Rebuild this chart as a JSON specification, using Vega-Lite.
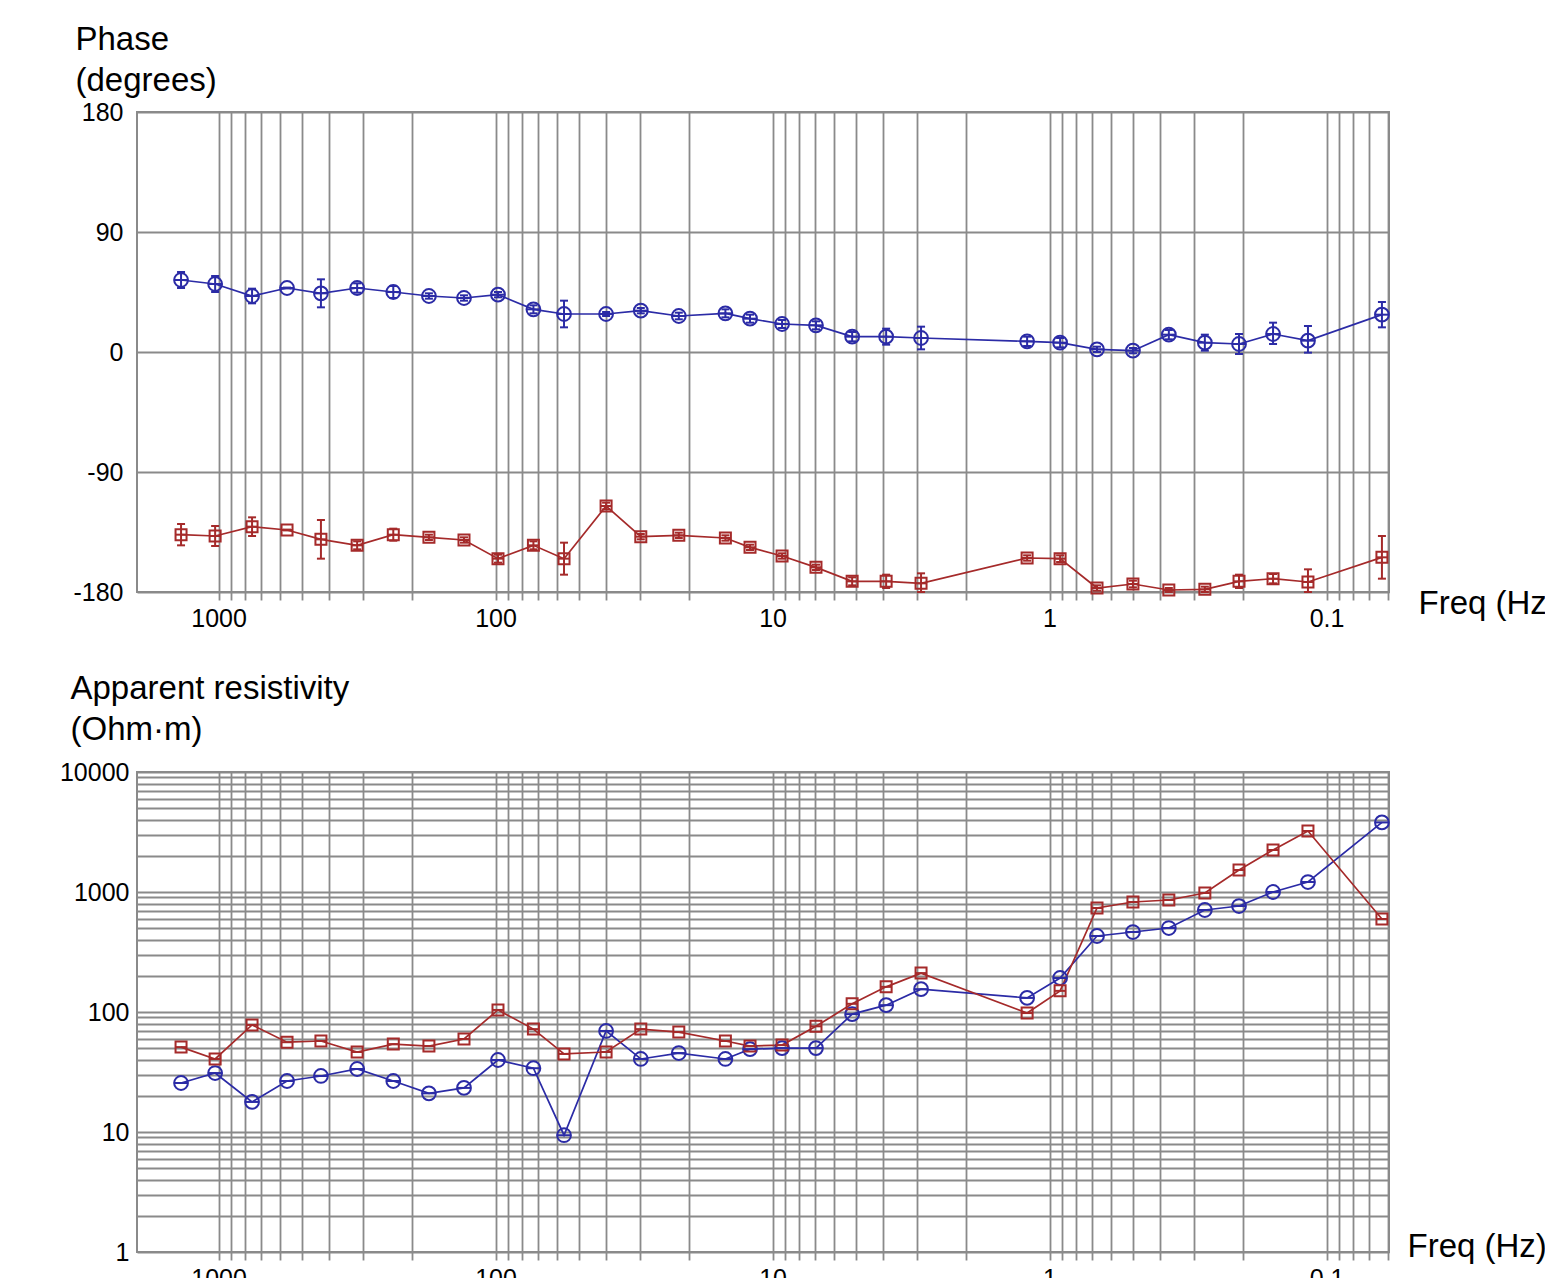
{
  "$schema": "https://vega.github.io/schema/vega-lite/v6.json",
  "padding": {"left": 58, "top": 22, "right": 0, "bottom": 0},
  "config": {
    "font": "Liberation Sans",
    "view": {"stroke": "#8a8a8a", "strokeWidth": 2},
    "axis": {
      "gridColor": "#8a8a8a", "gridWidth": 1.8, "gridOpacity": 1,
      "domain": false, "tickColor": "#8a8a8a", "tickWidth": 1.8,
      "labelFont": "Liberation Sans", "labelColor": "#000",
      "titleFont": "Liberation Sans", "titleColor": "#000", "titleFontWeight": "normal"
    }
  },
  "datasets": {
    "mt": [
      {"freq": 1366, "series": "A", "ph": 54, "lo": 48, "hi": 60, "rho": 25.6},
      {"freq": 1029, "series": "A", "ph": 51, "lo": 45, "hi": 57, "rho": 31},
      {"freq": 757, "series": "A", "ph": 42, "lo": 36.5, "hi": 47.5, "rho": 17.8},
      {"freq": 566, "series": "A", "ph": 48, "lo": 47.7, "hi": 48.3, "rho": 26.6},
      {"freq": 427, "series": "A", "ph": 44, "lo": 33.5, "hi": 54.5, "rho": 29.3},
      {"freq": 316, "series": "A", "ph": 48, "lo": 44.5, "hi": 51.5, "rho": 33.5},
      {"freq": 234, "series": "A", "ph": 45, "lo": 40.5, "hi": 49.5, "rho": 26.6},
      {"freq": 174, "series": "A", "ph": 42, "lo": 40, "hi": 44, "rho": 21},
      {"freq": 130, "series": "A", "ph": 40.5, "lo": 38.5, "hi": 42.5, "rho": 23.3},
      {"freq": 98, "series": "A", "ph": 43, "lo": 41, "hi": 45, "rho": 39.8},
      {"freq": 73, "series": "A", "ph": 32, "lo": 29, "hi": 35, "rho": 34},
      {"freq": 56.6, "series": "A", "ph": 28.5, "lo": 18.5, "hi": 38.5, "rho": 9.4},
      {"freq": 39.9, "series": "A", "ph": 28.5, "lo": 27, "hi": 30, "rho": 69.5},
      {"freq": 29.9, "series": "A", "ph": 31, "lo": 29, "hi": 33, "rho": 40.6},
      {"freq": 21.8, "series": "A", "ph": 27, "lo": 24.5, "hi": 29.5, "rho": 45.5},
      {"freq": 14.8, "series": "A", "ph": 29, "lo": 26, "hi": 32, "rho": 40.6},
      {"freq": 12.06, "series": "A", "ph": 25, "lo": 22, "hi": 28, "rho": 49},
      {"freq": 9.24, "series": "A", "ph": 21, "lo": 18, "hi": 24, "rho": 50},
      {"freq": 6.97, "series": "A", "ph": 20, "lo": 17, "hi": 23, "rho": 50},
      {"freq": 5.16, "series": "A", "ph": 11.5, "lo": 8, "hi": 15, "rho": 96},
      {"freq": 3.89, "series": "A", "ph": 11.5, "lo": 5.5, "hi": 17.5, "rho": 114},
      {"freq": 2.91, "series": "A", "ph": 10.5, "lo": 2, "hi": 19, "rho": 155},
      {"freq": 1.205, "series": "A", "ph": 8, "lo": 4.5, "hi": 11.5, "rho": 131},
      {"freq": 0.916, "series": "A", "ph": 7, "lo": 3.5, "hi": 10.5, "rho": 192},
      {"freq": 0.674, "series": "A", "ph": 2, "lo": 0, "hi": 4, "rho": 430},
      {"freq": 0.5, "series": "A", "ph": 1, "lo": -1, "hi": 3, "rho": 464},
      {"freq": 0.371, "series": "A", "ph": 13, "lo": 9.5, "hi": 16.5, "rho": 501},
      {"freq": 0.275, "series": "A", "ph": 7, "lo": 1, "hi": 13, "rho": 708},
      {"freq": 0.207, "series": "A", "ph": 6, "lo": -1.5, "hi": 13.5, "rho": 764},
      {"freq": 0.156, "series": "A", "ph": 13.5, "lo": 6, "hi": 22, "rho": 1000},
      {"freq": 0.1167, "series": "A", "ph": 8.5, "lo": -0.5, "hi": 19.5, "rho": 1211},
      {"freq": 0.0631, "series": "A", "ph": 28, "lo": 18.5, "hi": 37.5, "rho": 3800},
      {"freq": 1366, "series": "B", "ph": -137, "lo": -145, "hi": -129, "rho": 51},
      {"freq": 1029, "series": "B", "ph": -138, "lo": -145.5, "hi": -130.5, "rho": 40.6},
      {"freq": 757, "series": "B", "ph": -131, "lo": -138, "hi": -124, "rho": 78},
      {"freq": 566, "series": "B", "ph": -133.5, "lo": -133.8, "hi": -133.2, "rho": 56},
      {"freq": 427, "series": "B", "ph": -140.5, "lo": -155, "hi": -126, "rho": 57.3},
      {"freq": 316, "series": "B", "ph": -145, "lo": -148, "hi": -142, "rho": 46.4},
      {"freq": 234, "series": "B", "ph": -137, "lo": -141.5, "hi": -132.5, "rho": 54},
      {"freq": 174, "series": "B", "ph": -139, "lo": -141, "hi": -137, "rho": 52},
      {"freq": 130, "series": "B", "ph": -141, "lo": -143, "hi": -139, "rho": 59.6},
      {"freq": 98, "series": "B", "ph": -155, "lo": -158, "hi": -152, "rho": 104},
      {"freq": 73, "series": "B", "ph": -145, "lo": -148, "hi": -142, "rho": 72},
      {"freq": 56.6, "series": "B", "ph": -155, "lo": -167, "hi": -143, "rho": 44.7},
      {"freq": 39.9, "series": "B", "ph": -115.5, "lo": -118, "hi": -113, "rho": 46.4},
      {"freq": 29.9, "series": "B", "ph": -138.5, "lo": -140.5, "hi": -136.5, "rho": 72},
      {"freq": 21.8, "series": "B", "ph": -137.5, "lo": -139.5, "hi": -135.5, "rho": 68},
      {"freq": 14.8, "series": "B", "ph": -139.5, "lo": -141.5, "hi": -137.5, "rho": 57.3},
      {"freq": 12.06, "series": "B", "ph": -146.5, "lo": -148.5, "hi": -144.5, "rho": 52},
      {"freq": 9.24, "series": "B", "ph": -153, "lo": -155, "hi": -151, "rho": 53},
      {"freq": 6.97, "series": "B", "ph": -161.5, "lo": -163.5, "hi": -159.5, "rho": 76},
      {"freq": 5.16, "series": "B", "ph": -172, "lo": -175, "hi": -169, "rho": 117},
      {"freq": 3.89, "series": "B", "ph": -172, "lo": -177, "hi": -167, "rho": 162},
      {"freq": 2.91, "series": "B", "ph": -173.5, "lo": -180, "hi": -166, "rho": 211},
      {"freq": 1.205, "series": "B", "ph": -154.5, "lo": -156.5, "hi": -152.5, "rho": 98},
      {"freq": 0.916, "series": "B", "ph": -155, "lo": -157.5, "hi": -152.5, "rho": 150},
      {"freq": 0.674, "series": "B", "ph": -177, "lo": -179, "hi": -175, "rho": 736},
      {"freq": 0.5, "series": "B", "ph": -174, "lo": -176.5, "hi": -171.5, "rho": 825},
      {"freq": 0.371, "series": "B", "ph": -178.5, "lo": -180, "hi": -177, "rho": 858},
      {"freq": 0.275, "series": "B", "ph": -178, "lo": -180, "hi": -176, "rho": 981},
      {"freq": 0.207, "series": "B", "ph": -172, "lo": -177, "hi": -167, "rho": 1525},
      {"freq": 0.156, "series": "B", "ph": -170, "lo": -173.5, "hi": -166.5, "rho": 2239},
      {"freq": 0.1167, "series": "B", "ph": -172.5, "lo": -180, "hi": -163, "rho": 3225},
      {"freq": 0.0631, "series": "B", "ph": -154, "lo": -170, "hi": -138, "rho": 596}
    ]
  },
  "spacing": 180,
  "bounds": "flush",
  "vconcat": [
    {
      "width": 1252,
      "height": 480,
      "data": {"name": "mt"},
      "encoding": {
        "x": {
          "field": "freq", "type": "quantitative",
          "scale": {"type": "log", "domain": [0.0595, 1970], "reverse": true, "nice": false},
          "axis": {
            "values": [0.06, 0.07, 0.08, 0.09, 0.1, 0.2, 0.3, 0.4, 0.5, 0.6, 0.7, 0.8, 0.9, 1, 2, 3, 4, 5, 6, 7, 8, 9, 10, 20, 30, 40, 50, 60, 70, 80, 90, 100, 200, 300, 400, 500, 600, 700, 800, 900, 1000],
            "format": "~g",
            "labelExpr": "(datum.value == 1000 || datum.value == 100 || datum.value == 10 || datum.value == 1 || datum.value == 0.1) ? datum.label : ''",
            "labelOverlap": false, "labelFlush": false, "labelBound": false,
            "labelFontSize": 25, "labelPadding": 6, "tickSize": 8,
            "title": "Freq (Hz)", "titleFontSize": 33, "titleAlign": "left", "titleBaseline": "alphabetic",
            "titleAnchor": "start", "titleX": 1281, "titleY": 21
          }
        },
        "color": {"field": "series", "type": "nominal", "scale": {"domain": ["A", "B"], "range": ["#2b2ba6", "#a52a2a"]}, "legend": null}
      },
      "layer": [
        {
          "mark": {"type": "rule", "strokeWidth": 2},
          "encoding": {
            "y": {"field": "lo", "type": "quantitative", "scale": {"domain": [-180, 180], "nice": false, "zero": false},
              "axis": {
                "values": [-180, -90, 0, 90, 180], "ticks": false, "labelFontSize": 25, "labelPadding": 14,
                "labelExpr": "toString(datum.value)",
                "title": ["Phase", "(degrees)"], "titleAngle": 0, "titleAlign": "left", "titleBaseline": "alphabetic",
                "titleX": -62, "titleY": -63, "titleFontSize": 33, "titleLineHeight": 41
              }
            },
            "y2": {"field": "hi"}
          }
        },
        {
          "mark": {"type": "point", "shape": "M-1,0H1", "filled": false, "strokeWidth": 2, "size": 64, "opacity": 1},
          "encoding": {"y": {"field": "lo", "type": "quantitative"}}
        },
        {
          "mark": {"type": "point", "shape": "M-1,0H1", "filled": false, "strokeWidth": 2, "size": 64, "opacity": 1},
          "encoding": {"y": {"field": "hi", "type": "quantitative"}}
        },
        {
          "mark": {"type": "line", "strokeWidth": 1.7},
          "encoding": {"y": {"field": "ph", "type": "quantitative"}}
        },
        {
          "mark": {"type": "point", "filled": false, "strokeWidth": 2, "opacity": 1},
          "encoding": {
            "y": {"field": "ph", "type": "quantitative"},
            "shape": {"field": "series", "type": "nominal", "scale": {"domain": ["A", "B"], "range": ["circle", "square"]}, "legend": null},
            "size": {"condition": {"test": "datum.series === 'A'", "value": 190}, "value": 121}
          }
        },
        {
          "mark": {"type": "point", "shape": "M-1,0H1", "filled": false, "strokeWidth": 2, "opacity": 1},
          "encoding": {
            "y": {"field": "ph", "type": "quantitative"},
            "size": {"condition": {"test": "datum.series === 'A'", "value": 190}, "value": 121}
          }
        }
      ]
    },
    {
      "width": 1252,
      "height": 480,
      "data": {"name": "mt"},
      "encoding": {
        "x": {
          "field": "freq", "type": "quantitative",
          "scale": {"type": "log", "domain": [0.0595, 1970], "reverse": true, "nice": false},
          "axis": {
            "values": [0.06, 0.07, 0.08, 0.09, 0.1, 0.2, 0.3, 0.4, 0.5, 0.6, 0.7, 0.8, 0.9, 1, 2, 3, 4, 5, 6, 7, 8, 9, 10, 20, 30, 40, 50, 60, 70, 80, 90, 100, 200, 300, 400, 500, 600, 700, 800, 900, 1000],
            "format": "~g",
            "labelExpr": "(datum.value == 1000 || datum.value == 100 || datum.value == 10 || datum.value == 1 || datum.value == 0.1) ? datum.label : ''",
            "labelOverlap": false, "labelFlush": false, "labelBound": false,
            "labelFontSize": 25, "labelPadding": 6, "tickSize": 8,
            "title": "Freq (Hz)", "titleFontSize": 33, "titleAlign": "left", "titleBaseline": "alphabetic",
            "titleAnchor": "start", "titleX": 1270, "titleY": 4
          }
        },
        "y": {
          "field": "rho", "type": "quantitative",
          "scale": {"type": "log", "domain": [1, 10000], "nice": false},
          "axis": {
            "values": [1, 2, 3, 4, 5, 6, 7, 8, 9, 10, 20, 30, 40, 50, 60, 70, 80, 90, 100, 200, 300, 400, 500, 600, 700, 800, 900, 1000, 2000, 3000, 4000, 5000, 6000, 7000, 8000, 9000, 10000],
            "format": "~g",
            "labelExpr": "(datum.value == 1 || datum.value == 10 || datum.value == 100 || datum.value == 1000 || datum.value == 10000) ? datum.label : ''",
            "labelOverlap": false, "labelFlush": false, "labelBound": false,
            "ticks": false, "labelFontSize": 25, "labelPadding": 8,
            "title": ["Apparent resistivity", "(Ohm·m)"], "titleAngle": 0, "titleAlign": "left", "titleBaseline": "alphabetic",
            "titleX": -67, "titleY": -74, "titleFontSize": 33, "titleLineHeight": 41
          }
        },
        "color": {"field": "series", "type": "nominal", "scale": {"domain": ["A", "B"], "range": ["#2b2ba6", "#a52a2a"]}, "legend": null}
      },
      "layer": [
        {
          "mark": {"type": "line", "strokeWidth": 1.7},
          "encoding": {}
        },
        {
          "mark": {"type": "point", "filled": false, "strokeWidth": 2, "opacity": 1},
          "encoding": {
            "shape": {"field": "series", "type": "nominal", "scale": {"domain": ["A", "B"], "range": ["circle", "square"]}, "legend": null},
            "size": {"condition": {"test": "datum.series === 'A'", "value": 190}, "value": 121}
          }
        },
        {
          "mark": {"type": "point", "shape": "M-1,0H1", "filled": false, "strokeWidth": 2, "opacity": 1},
          "encoding": {
            "size": {"condition": {"test": "datum.series === 'A'", "value": 190}, "value": 121}
          }
        }
      ]
    }
  ]
}
